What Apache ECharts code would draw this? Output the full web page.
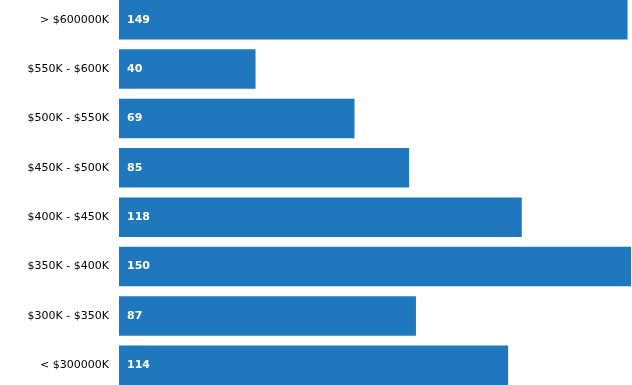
<!DOCTYPE html>
<html>
<head>
<meta charset="utf-8">
<script src="https://cdn.jsdelivr.net/npm/echarts@6/dist/echarts.min.js"></script>
<style>html,body{margin:0;padding:0;background:#fff;overflow:hidden;width:632px;height:385px;}#c{width:632px;height:395px;margin-top:-5.4px;}</style>
</head>
<body>
<div id="c"></div>
<script>
var categories = ['< $300000K', '$300K - $350K', '$350K - $400K', '$400K - $450K', '$450K - $500K', '$500K - $550K', '$550K - $600K', '> $600000K'];
var values = [114, 87, 150, 118, 85, 69, 40, 149];

var chart = echarts.init(document.getElementById('c'));
chart.setOption({
  animation: false,
  grid: { left: 119, right: 1, top: 0, bottom: 0, containLabel: false },
  xAxis: { type: 'value', min: 0, max: 150, show: false },
  yAxis: {
    type: 'category', data: categories,
    axisLine: { show: false }, axisTick: { show: false }, splitLine: { show: false },
    axisLabel: { color: '#000', fontFamily: 'DejaVu Sans', fontSize: 11, margin: 10 }
  },
  series: [{
    type: 'bar', data: values, barCategoryGap: '20%',
    itemStyle: { color: '#1f77be' },
    label: { show: true, position: 'insideLeft', distance: 8, color: '#fff', fontFamily: 'DejaVu Sans', fontWeight: 'bold', fontSize: 11 }
  }]
});
</script>
</body>
</html>
